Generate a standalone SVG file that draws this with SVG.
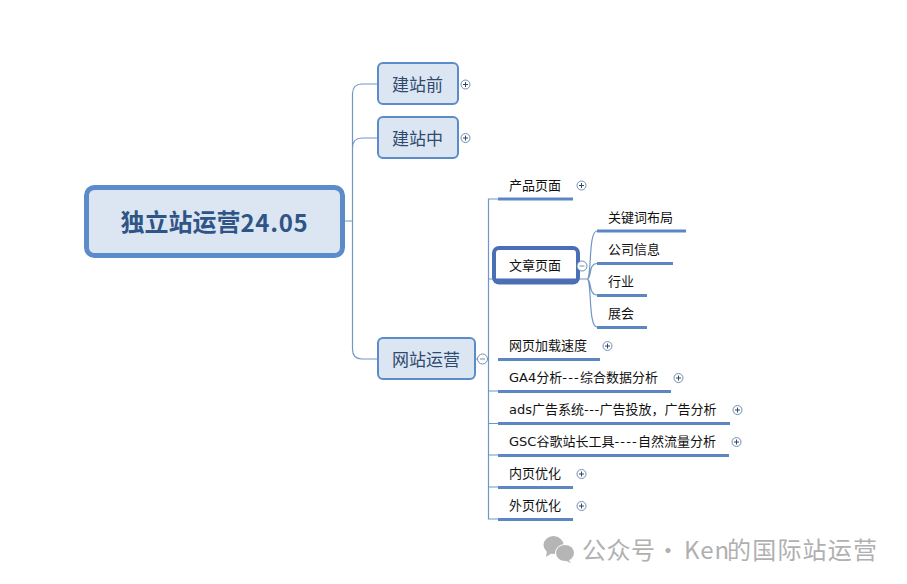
<svg xmlns="http://www.w3.org/2000/svg" width="907" height="584" viewBox="0 0 907 584">
<style>
text{font-family:"Noto Sans CJK SC","Noto Sans",sans-serif;}
.box{fill:#dce6f3;stroke:#5b8bc8;stroke-width:2;}
.t1{font-size:17px;fill:#2f4a6e;text-anchor:middle;dominant-baseline:central;}
.t2{font-size:13px;fill:#111;dominant-baseline:central;font-family:"DejaVu Sans","Noto Sans CJK SC",sans-serif;}
.h{letter-spacing:1.2px;}
.c{fill:none;stroke:#6f96c6;stroke-width:1.2;}
.u{stroke:#5b87c3;stroke-width:3;}
.b{fill:#fff;stroke:#6f8fb5;stroke-width:1;}
.s{stroke:#33475f;stroke-width:1;}
.bf{fill:#b5b5b5;}
.w{font-size:24px;fill:#b0b0b0;dominant-baseline:central;}
</style>
<defs>
<g id="plus"><circle class="b" r="4.500"/><path class="s" d="M-2.500 0H2.500M0-2.500V2.500"/></g>
<g id="minus"><circle class="b" r="5"/><path class="s" d="M-2.500 0H2.500" style="stroke:#6f8fb5"/></g>
</defs>
<rect width="907" height="584" fill="#fff"/>
<g id="connectors">
<path class="c" d="M345 221H352.500M377 84H362Q352.500 84 352.500 94V349Q352.500 359 362 359H377M377 138H362Q352.500 138 352.500 148"/>
<path class="c" d="M476 359H488.500M498 199H488.500V519H498M488.500 279H493M488.500 391H498M488.500 423.500H498M488.500 455H498M488.500 487H498"/>
<path class="c" d="M579 279H587M587 279C592 279 588 231 597 231M587 279C592 279 588 263.500 597 263.500M587 279C592 279 588 295 597 295M587 279C592 279 588 327 597 327"/>
</g>
<g id="root"><rect x="86.500" y="187.500" width="256" height="68" rx="8" fill="#dce6f3" stroke="#5b8bc8" stroke-width="5"/>
<text x="120.500" y="220.500" dominant-baseline="central" font-size="24" font-weight="700" fill="#2f5587">独立站运营<tspan letter-spacing="0.700">24.05</tspan></text></g>
<g id="n-qian"><rect class="box" x="378" y="63" width="80" height="41" rx="5"/><text class="t1" x="417.500" y="83">建站前</text><use href="#plus" x="465.500" y="84.500"/></g>
<g id="n-zhong"><rect class="box" x="378" y="117" width="80" height="41" rx="5"/><text class="t1" x="417.500" y="137">建站中</text><use href="#plus" x="465.500" y="138"/></g>
<g id="n-yunying"><rect class="box" x="378" y="338" width="97" height="41" rx="5"/><text class="t1" x="426" y="358">网站运营</text><use href="#minus" x="482.500" y="359"/></g>
<g id="n-chanpin"><line class="u" x1="498" x2="573" y1="199" y2="199"/><text class="t2" x="509" y="185">产品页面</text><use href="#plus" x="581.500" y="185.500"/></g>
<g id="n-wenzhang"><rect x="494" y="248" width="84" height="34.500" rx="5" fill="#fff" stroke="#4a6fb5" stroke-width="4"/><line x1="494" x2="578" y1="280.500" y2="280.500" stroke="#4a6fb5" stroke-width="4"/><text class="t2" x="509" y="265">文章页面</text><use href="#minus" x="582" y="266"/></g>
<g id="n-guanjian"><line class="u" x1="597" x2="686" y1="231" y2="231"/><text class="t2" x="608" y="217">关键词布局</text></g>
<g id="n-gongsi"><line class="u" x1="597" x2="673" y1="263.500" y2="263.500"/><text class="t2" x="608" y="249">公司信息</text></g>
<g id="n-hangye"><line class="u" x1="597" x2="647" y1="295.500" y2="295.500"/><text class="t2" x="608" y="281">行业</text></g>
<g id="n-zhanhui"><line class="u" x1="597" x2="647" y1="327.500" y2="327.500"/><text class="t2" x="608" y="313">展会</text></g>
<g id="n-sudu"><line class="u" x1="498" x2="600" y1="359.500" y2="359.500"/><text class="t2" x="509" y="345">网页加载速度</text><use href="#plus" x="607.500" y="346"/></g>
<g id="n-ga4"><line class="u" x1="498" x2="671" y1="391.500" y2="391.500"/><text class="t2" x="509" y="377">GA4分析<tspan class="h">---</tspan>综合数据分析</text><use href="#plus" x="678.500" y="378"/></g>
<g id="n-ads"><line class="u" x1="498" x2="730" y1="423.500" y2="423.500"/><text class="t2" x="509" y="409">ads广告系统<tspan letter-spacing="0.500">---</tspan>广告投放，广告分析</text><use href="#plus" x="737.500" y="410"/></g>
<g id="n-gsc"><line class="u" x1="498" x2="729" y1="455.500" y2="455.500"/><text class="t2" x="509" y="441">GSC谷歌站长工具<tspan class="h">----</tspan>自然流量分析</text><use href="#plus" x="736.500" y="442"/></g>
<g id="n-neiye"><line class="u" x1="498" x2="573" y1="487.500" y2="487.500"/><text class="t2" x="509" y="473">内页优化</text><use href="#plus" x="581.500" y="474"/></g>
<g id="n-waiye"><line class="u" x1="498" x2="573" y1="519.500" y2="519.500"/><text class="t2" x="509" y="505">外页优化</text><use href="#plus" x="581.500" y="506"/></g>
<g id="watermark">
<ellipse class="bf" cx="553.500" cy="545" rx="10" ry="9"/><path class="bf" d="M547 551L546 557L552 553Z"/>
<ellipse cx="565" cy="553" rx="10" ry="9" fill="#fff"/>
<ellipse class="bf" cx="565" cy="553" rx="9" ry="8"/><path class="bf" d="M568 559L571 563L564 560Z"/>
<text class="w" x="582" y="548" letter-spacing="0.500">公众号</text>
<text class="w" x="656" y="548">·</text>
<text class="w" x="684" y="548" letter-spacing="1">Ken</text>
<text class="w" x="727" y="548" letter-spacing="1.200">的国际站运营</text>
</g>
</svg>
